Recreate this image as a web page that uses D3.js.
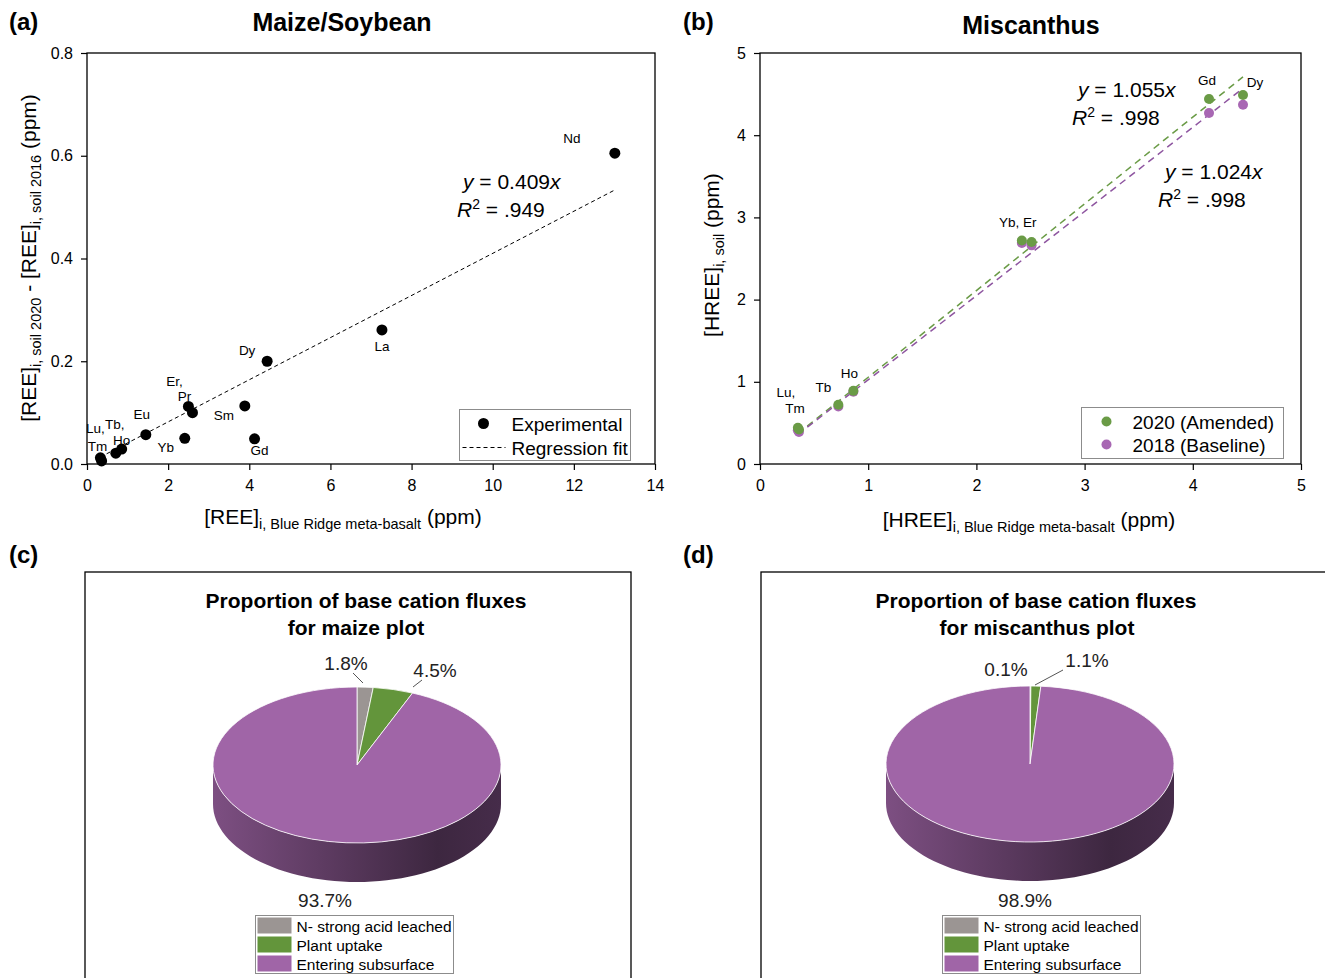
<!DOCTYPE html>
<html>
<head>
<meta charset="utf-8">
<script src="https://cdn.jsdelivr.net/npm/d3@7"></script>
<style>
body { margin: 0; background: #fff; }
svg { font-family: 'Liberation Sans', Arial, sans-serif; }
</style>
</head>
<body>
<div id="chart"></div>
<script>
// (a) maize/soybean: REE gain in soil vs. meta-basalt concentration
const reeElements = ['La', 'Pr', 'Nd', 'Sm', 'Eu', 'Gd', 'Tb', 'Dy', 'Ho', 'Er', 'Tm', 'Yb', 'Lu'];
const reeLabels = ['La', 'Pr', 'Nd', 'Sm', 'Eu', 'Gd', 'Tb,', 'Dy', 'Ho', 'Er,', 'Tm', 'Yb', 'Lu,'];
const reeBasalt = [7.27, 2.60, 13.01, 3.89, 1.45, 4.13, 0.71, 4.44, 0.855, 2.50, 0.36, 2.41, 0.33];
const reeSoilGain = [0.261, 0.100, 0.605, 0.113, 0.057, 0.049, 0.021, 0.200, 0.029, 0.112, 0.006, 0.050, 0.012];
const reeFitSlope = 0.041;
const reeXTicks = [0, 2, 4, 6, 8, 10, 12, 14];
const reeYTicks = [0.0, 0.2, 0.4, 0.6, 0.8];

// (b) miscanthus: HREE in soil vs. meta-basalt
const hreeElements = ['Gd', 'Tb', 'Dy', 'Ho', 'Er', 'Tm', 'Yb', 'Lu'];
const hreeLabels = ['Gd', 'Tb', 'Dy', 'Ho', '', 'Tm', 'Yb, Er', 'Lu,'];
const hreeBasalt = [4.15, 0.724, 4.464, 0.863, 2.51, 0.36, 2.42, 0.35];
const hreeSoil2020 = [4.44, 0.72, 4.49, 0.89, 2.70, 0.42, 2.72, 0.44];
const hreeSoil2018 = [4.27, 0.70, 4.37, 0.88, 2.66, 0.39, 2.69, 0.41];
const hreeFitSlope2020 = 1.055;
const hreeFitSlope2018 = 1.024;
const hreeTicks = [0, 1, 2, 3, 4, 5];

// (c), (d) base cation flux proportions (%)
const fluxCategories = ['N- strong acid leached', 'Plant uptake', 'Entering subsurface'];
const maizeFlux = [1.8, 4.5, 93.7];
const miscanthusFlux = [0.1, 1.1, 98.9];

const fluxColors = ['#9b9593', '#63953b', '#a065a7'];
const green = '#6a9b46', purple = '#a867b3';

let svg = d3.select('#chart').append('svg')
    .attr('width', 1325)
    .attr('height', 978);

// text with sub/superscript and italic runs
function rich_text(sel, parts, subSize) {
    let shift = 0;
    parts.forEach(function (p) {
        let target = p.sub ? 5 : (p.sup ? -8 : 0);
        let t = sel.append('tspan').text(p.t).attr('dy', target - shift);
        shift = target;
        if (p.sub || p.sup) t.attr('font-size', subSize);
        if (p.it) t.attr('font-style', 'italic');
    });
    return sel;
}

function make_axes(g, x, y, major, minor, fmt, w, h) {
    let xa = g.append('g').attr('transform', 'translate(0,' + h + ')');
    xa.call(d3.axisBottom(x).tickValues(minor.x).tickSize(3).tickFormat(''));
    xa.call(d3.axisBottom(x).tickValues(major.x).tickSizeInner(6).tickSizeOuter(0).tickPadding(10).tickFormat(fmt.x));
    let ya = g.append('g');
    ya.call(d3.axisLeft(y).tickValues(minor.y).tickSize(3).tickFormat(''));
    ya.call(d3.axisLeft(y).tickValues(major.y).tickSizeInner(6).tickSizeOuter(0).tickPadding(8).tickFormat(fmt.y));
    g.selectAll('.domain').remove();
    g.selectAll('.tick line').attr('stroke', '#000').attr('stroke-width', 1.2);
    g.selectAll('.tick text').attr('font-size', 16).attr('font-family', 'Liberation Sans, Arial, sans-serif').attr('fill', '#000');
    g.append('rect')
        .attr('width', w).attr('height', h)
        .attr('fill', 'none').attr('stroke', '#000').attr('stroke-width', 1.3);
}

function panel_letter(text, x, y) {
    svg.append('text').attr('x', x).attr('y', y)
        .attr('font-size', 24).attr('font-weight', 'bold').text(text);
}

// ---------- (a) ----------
function make_ree_panel() {
    let left = 87, top = 53, w = 568, h = 411;
    let g = svg.append('g').attr('transform', 'translate(' + left + ',' + top + ')');
    let x = d3.scaleLinear().domain([0, 14]).range([0, w]);
    let y = d3.scaleLinear().domain([0, 0.8]).range([h, 0]);

    make_axes(g, x, y,
        {x: reeXTicks, y: reeYTicks},
        {x: d3.range(1, 14, 2), y: [0.1, 0.3, 0.5, 0.7]},
        {x: d3.format('d'), y: d3.format('.1f')}, w, h);

    let data = reeElements.map(function (el, i) {
        return {el: el, label: reeLabels[i], x: reeBasalt[i], y: reeSoilGain[i]};
    });
    let ext = d3.extent(reeBasalt);
    g.append('path')
        .attr('d', d3.line()([[x(ext[0]), y(reeFitSlope * ext[0])], [x(ext[1]), y(reeFitSlope * ext[1])]]))
        .attr('stroke', '#000').attr('stroke-width', 1).attr('stroke-dasharray', '4,3').attr('fill', 'none');

    g.selectAll('circle.pt').data(data).enter().append('circle')
        .attr('class', 'pt')
        .attr('cx', function (d) { return x(d.x); })
        .attr('cy', function (d) { return y(d.y); })
        .attr('r', 5.5).attr('fill', '#000');

    // label offsets from their point (centre x, middle y)
    let off = {La: [0, 17], Pr: [-8, -16], Nd: [-43, -15], Sm: [-21, 10], Eu: [-4, -20], Gd: [5, 12],
        Tb: [-1, -29], Dy: [-20, -11], Ho: [0, -9], Er: [-14, -25], Tm: [-4, -14], Yb: [-19, 9], Lu: [-5, -29]};
    g.selectAll('text.lab').data(data).enter().append('text')
        .attr('class', 'lab')
        .attr('x', function (d) { return x(d.x) + off[d.el][0]; })
        .attr('y', function (d) { return y(d.y) + off[d.el][1] + 4.5; })
        .attr('text-anchor', 'middle').attr('font-size', 13.5)
        .text(function (d) { return d.label; });

    rich_text(g.append('text').attr('x', 376).attr('y', 136).attr('font-size', 21),
        [{t: 'y', it: true}, {t: ' = 0.409'}, {t: 'x', it: true}], 14);
    rich_text(g.append('text').attr('x', 370).attr('y', 164).attr('font-size', 21),
        [{t: 'R', it: true}, {t: '2', sup: true}, {t: ' = .949'}], 14);

    // legend
    let lg = g.append('g').attr('transform', 'translate(372.5,356.5)');
    lg.append('rect').attr('width', 171).attr('height', 51).attr('fill', '#fff').attr('stroke', '#8c8c8c');
    lg.append('circle').attr('cx', 24).attr('cy', 14).attr('r', 5.5).attr('fill', '#000');
    lg.append('path').attr('d', 'M3,38H46').attr('stroke', '#000').attr('stroke-dasharray', '4,3');
    lg.append('text').attr('x', 52).attr('y', 21).attr('font-size', 19).text('Experimental');
    lg.append('text').attr('x', 52).attr('y', 45).attr('font-size', 19).text('Regression fit');

    svg.append('text').attr('x', 342).attr('y', 31).attr('text-anchor', 'middle')
        .attr('font-size', 25).attr('font-weight', 'bold').text('Maize/Soybean');
    rich_text(svg.append('text').attr('x', 343).attr('y', 524).attr('text-anchor', 'middle').attr('font-size', 21),
        [{t: '[REE]'}, {t: 'i, Blue Ridge meta-basalt', sub: true}, {t: ' (ppm)'}], 14.5);
    rich_text(svg.append('text').attr('transform', 'translate(36,258) rotate(-90)').attr('text-anchor', 'middle').attr('font-size', 21),
        [{t: '[REE]'}, {t: 'i, soil 2020', sub: true}, {t: ' - [REE]'}, {t: 'i, soil 2016', sub: true}, {t: ' (ppm)'}], 14.5);
    panel_letter('(a)', 9, 30);
}

// ---------- (b) ----------
function make_hree_panel() {
    let left = 760, top = 53, w = 541, h = 411;
    let g = svg.append('g').attr('transform', 'translate(' + left + ',' + top + ')');
    let x = d3.scaleLinear().domain([0, 5]).range([0, w]);
    let y = d3.scaleLinear().domain([0, 5]).range([h, 0]);

    make_axes(g, x, y,
        {x: hreeTicks, y: hreeTicks},
        {x: [0.5, 1.5, 2.5, 3.5, 4.5], y: [0.5, 1.5, 2.5, 3.5, 4.5]},
        {x: d3.format('d'), y: d3.format('d')}, w, h);

    let data = hreeElements.map(function (el, i) {
        return {el: el, label: hreeLabels[i], x: hreeBasalt[i], y20: hreeSoil2020[i], y18: hreeSoil2018[i]};
    });
    let ext = d3.extent(hreeBasalt);
    [[hreeFitSlope2020, green], [hreeFitSlope2018, '#8e55a0']].forEach(function (f) {
        g.append('path')
            .attr('d', d3.line()([[x(ext[0]), y(f[0] * ext[0])], [x(ext[1]), y(f[0] * ext[1])]]))
            .attr('stroke', f[1]).attr('stroke-width', 1.5).attr('stroke-dasharray', '7,5').attr('fill', 'none');
    });

    g.selectAll('circle.p18').data(data).enter().append('circle')
        .attr('class', 'p18')
        .attr('cx', function (d) { return x(d.x); })
        .attr('cy', function (d) { return y(d.y18); })
        .attr('r', 5).attr('fill', purple);
    g.selectAll('circle.p20').data(data).enter().append('circle')
        .attr('class', 'p20')
        .attr('cx', function (d) { return x(d.x); })
        .attr('cy', function (d) { return y(d.y20); })
        .attr('r', 5).attr('fill', green);

    let off = {Gd: [-2, -19], Tb: [-15, -17], Dy: [12, -12], Ho: [-4, -17], Er: [0, 0], Tm: [-4, -21], Yb: [-4, -18], Lu: [-12, -35]};
    g.selectAll('text.lab').data(data).enter().append('text')
        .attr('class', 'lab')
        .attr('x', function (d) { return x(d.x) + off[d.el][0]; })
        .attr('y', function (d) { return y(d.y20) + off[d.el][1] + 4.5; })
        .attr('text-anchor', 'middle').attr('font-size', 13.5)
        .text(function (d) { return d.label; });

    rich_text(g.append('text').attr('x', 318).attr('y', 44).attr('font-size', 21),
        [{t: 'y', it: true}, {t: ' = 1.055'}, {t: 'x', it: true}], 14);
    rich_text(g.append('text').attr('x', 312).attr('y', 72).attr('font-size', 21),
        [{t: 'R', it: true}, {t: '2', sup: true}, {t: ' = .998'}], 14);
    rich_text(g.append('text').attr('x', 405).attr('y', 126).attr('font-size', 21),
        [{t: 'y', it: true}, {t: ' = 1.024'}, {t: 'x', it: true}], 14);
    rich_text(g.append('text').attr('x', 398).attr('y', 154).attr('font-size', 21),
        [{t: 'R', it: true}, {t: '2', sup: true}, {t: ' = .998'}], 14);

    let lg = g.append('g').attr('transform', 'translate(321.5,354.5)');
    lg.append('rect').attr('width', 202).attr('height', 51).attr('fill', '#fff').attr('stroke', '#8c8c8c');
    [['2020 (Amended)', green], ['2018 (Baseline)', purple]].forEach(function (e, i) {
        lg.append('circle').attr('cx', 25).attr('cy', 14 + i * 23).attr('r', 5).attr('fill', e[1]);
        lg.append('text').attr('x', 51).attr('y', 21 + i * 23).attr('font-size', 19).text(e[0]);
    });

    svg.append('text').attr('x', 1031).attr('y', 34).attr('text-anchor', 'middle')
        .attr('font-size', 25).attr('font-weight', 'bold').text('Miscanthus');
    rich_text(svg.append('text').attr('x', 1029).attr('y', 527).attr('text-anchor', 'middle').attr('font-size', 21),
        [{t: '[HREE]'}, {t: 'i, Blue Ridge meta-basalt', sub: true}, {t: ' (ppm)'}], 14.5);
    rich_text(svg.append('text').attr('transform', 'translate(719,255) rotate(-90)').attr('text-anchor', 'middle').attr('font-size', 21),
        [{t: '[HREE]'}, {t: 'i, soil', sub: true}, {t: ' (ppm)'}], 14.5);
    panel_letter('(b)', 683, 30);
}

// ---------- (c), (d) 3-D pies ----------
function make_pie(values, o) {
    let cx = o.cx, cy = o.cy, rx = o.rx, ry = o.ry, depth = o.depth;
    svg.append('rect')
        .attr('x', o.box[0]).attr('y', o.box[1]).attr('width', o.box[2]).attr('height', o.box[3])
        .attr('fill', 'none').attr('stroke', '#000').attr('stroke-width', 1.3);
    o.title.forEach(function (t, i) {
        svg.append('text').attr('x', t[1]).attr('y', 608 + i * 27).attr('text-anchor', 'middle')
            .attr('font-size', 21).attr('font-weight', 'bold').text(t[0]);
    });

    let data = fluxCategories.map(function (c, i) { return {cat: c, value: values[i], color: fluxColors[i]}; });
    let arcs = d3.pie().sort(null).value(function (d) { return d.value; })(data);

    let defs = svg.append('defs');
    arcs.forEach(function (a, i) {
        let c = d3.color(a.data.color);
        let grad = defs.append('linearGradient').attr('id', o.id + '-side-' + i)
            .attr('gradientUnits', 'userSpaceOnUse')
            .attr('x1', cx - rx).attr('x2', cx + rx).attr('y1', 0).attr('y2', 0);
        grad.append('stop').attr('offset', 0).attr('stop-color', c.darker(0.7));
        grad.append('stop').attr('offset', 0.78).attr('stop-color', c.darker(2.7));
        grad.append('stop').attr('offset', 1).attr('stop-color', c.darker(2.3));
    });

    function ept(a, dy) { return [cx + rx * Math.sin(a), cy - ry * Math.cos(a) + (dy || 0)]; }
    function side_path(a) {
        let s = Math.max(a.startAngle, Math.PI / 2), e = Math.min(a.endAngle, 3 * Math.PI / 2);
        if (s >= e) return null;
        let angs = d3.range(0, 61).map(function (k) { return s + (e - s) * k / 60; });
        let pts = angs.map(function (t) { return ept(t); })
            .concat(angs.slice().reverse().map(function (t) { return ept(t, depth); }));
        return d3.line()(pts) + 'Z';
    }
    svg.append('g').selectAll('path').data(arcs).enter().append('path')
        .attr('d', side_path)
        .attr('fill', function (d, i) { return 'url(#' + o.id + '-side-' + i + ')'; });

    let arc = d3.arc().innerRadius(0).outerRadius(rx);
    svg.append('g').attr('transform', 'translate(' + cx + ',' + cy + ') scale(1,' + (ry / rx) + ')')
        .selectAll('path').data(arcs).enter().append('path')
        .attr('d', arc)
        .attr('fill', function (d) { return d.data.color; })
        .attr('stroke', '#fff').attr('stroke-width', 0.8)
        .attr('vector-effect', 'non-scaling-stroke');

    // percentage labels, placed relative to the pie centre
    arcs.forEach(function (a, i) {
        let L = o.labels[i];
        if (L.line) {
            svg.append('path')
                .attr('d', d3.line()([[cx + L.line[0], cy + L.line[1]], [cx + L.line[2], cy + L.line[3]]]))
                .attr('stroke', '#555').attr('stroke-width', 1);
        }
        svg.append('text').attr('x', cx + L.dx).attr('y', cy + L.dy)
            .attr('text-anchor', 'middle').attr('font-size', 19).attr('fill', '#222')
            .text(d3.format('.1f')(a.data.value) + '%');
    });

    let lg = svg.append('g').attr('transform', 'translate(' + o.legend[0] + ',' + o.legend[1] + ')');
    lg.append('rect').attr('width', 198).attr('height', 58).attr('fill', '#fff').attr('stroke', '#8c8c8c');
    data.forEach(function (d, i) {
        lg.append('rect').attr('x', 2).attr('y', 2 + i * 19).attr('width', 34).attr('height', 16).attr('fill', d.color);
        lg.append('text').attr('x', 41).attr('y', 16 + i * 19).attr('font-size', 15.5).text(d.cat);
    });
}

make_ree_panel();
make_hree_panel();

make_pie(maizeFlux, {
    id: 'maize', cx: 357, cy: 765, rx: 144, ry: 78, depth: 39,
    box: [85, 572, 546, 430],
    title: [['Proportion of base cation fluxes', 366], ['for maize plot', 356]],
    labels: [
        {dx: -11, dy: -95, line: [-4, -92, 6, -82]},
        {dx: 78, dy: -88, line: [56, -78, 65, -85]},
        {dx: -32, dy: 142}
    ],
    legend: [255.5, 915.5]
});
make_pie(miscanthusFlux, {
    id: 'misc', cx: 1030, cy: 764, rx: 144, ry: 78, depth: 39,
    box: [761, 572, 600, 430],
    title: [['Proportion of base cation fluxes', 1036], ['for miscanthus plot', 1037]],
    labels: [
        {dx: -24, dy: -88},
        {dx: 57, dy: -97, line: [33, -94, 5, -79]},
        {dx: -5, dy: 143}
    ],
    legend: [942.5, 915.5]
});

panel_letter('(c)', 9, 563);
panel_letter('(d)', 683, 563);
</script>
</body>
</html>
